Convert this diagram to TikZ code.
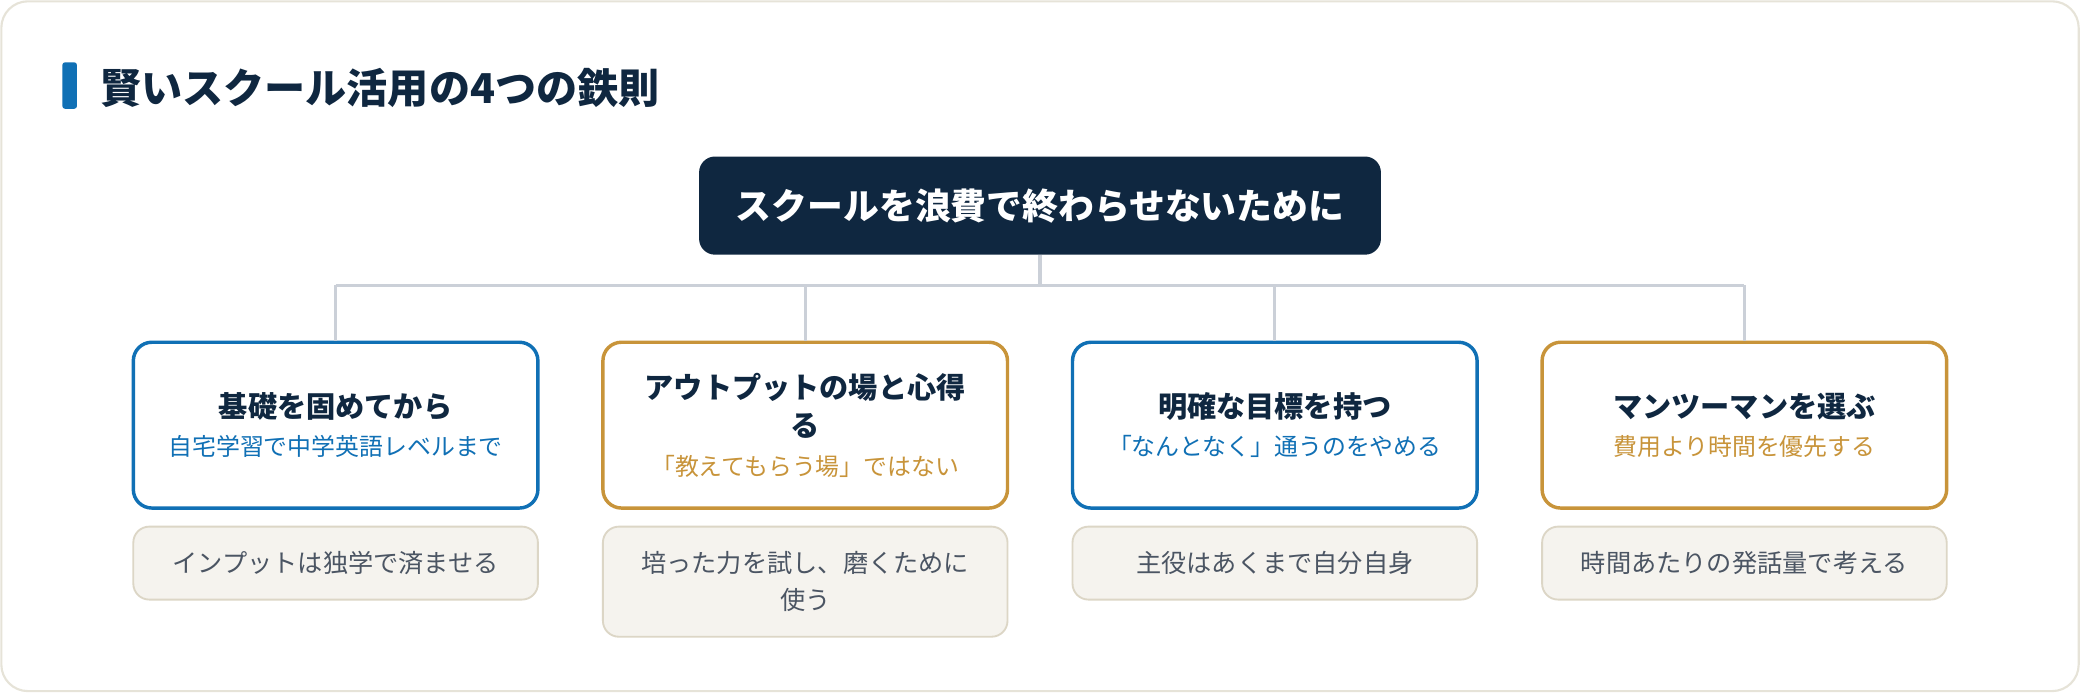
\documentclass[tikz,border=0pt]{standalone}
\usepackage{fontspec}
\setmainfont{Noto Sans CJK JP}
\definecolor{navy}{HTML}{0F2740}
\definecolor{accent}{HTML}{1070B5}
\definecolor{gold}{HTML}{C8943A}
\definecolor{linkgray}{HTML}{CBD0D8}
\definecolor{notefill}{HTML}{F5F3EE}
\definecolor{notedraw}{HTML}{DCD6C6}
\definecolor{notetext}{HTML}{4B5563}
\definecolor{framecol}{HTML}{E6E3D8}
\newcommand\cardhead[1]{{\bfseries\color{navy}#1}}
\newcommand\cardsub[2]{{\fontsize{9}{14.5}\selectfont\color{#1}#2}}
\begin{document}
\begin{tikzpicture}[x=0.5pt,y=-0.5pt,
    link/.style={draw=linkgray,line width=1.2pt},
    card/.style={draw=#1,line width=1.3pt,fill=white,rounded corners=7pt,
        minimum width=152.5pt,minimum height=62.5pt,inner sep=0pt,align=center,
        font=\fontsize{11}{14.5}\selectfont},
    note/.style={draw=notedraw,line width=0.7pt,fill=notefill,rounded corners=6pt,
        minimum width=152.5pt,minimum height=27.5pt,inner sep=0pt,align=center,
        text=notetext,font=\fontsize{9.5}{14}\selectfont}]
    \useasboundingbox (0,0) rectangle (1568,522);
    \draw[framecol,line width=0.8pt,fill=white,rounded corners=10pt] (1,1) rectangle (1567,521);
    \fill[accent,rounded corners=1pt] (47,47) rectangle (58,82);
    \node[anchor=west,inner sep=0pt,text=navy,font=\bfseries\fontsize{15.5}{18}\selectfont] (title) at (75,66) {賢いスクール活用の4つの鉄則};
    \node[fill=navy,rounded corners=6pt,minimum width=257pt,minimum height=37pt,text=white,
        font=\bfseries\fontsize{13.5}{16}\selectfont] (root) at (784,155) {スクールを浪費で終わらせないために};
    \node[card=accent] (c1) at (253,320.5) {\cardhead{基礎を固めてから}\\\cardsub{accent}{自宅学習で中学英語レベルまで}};
    \node[card=gold] (c2) at (607,320.5) {\cardhead{アウトプットの場と心得}\\\cardhead{る}\\\cardsub{gold}{「教えてもらう場」ではない}};
    \node[card=accent] (c3) at (961,320.5) {\cardhead{明確な目標を持つ}\\\cardsub{accent}{「なんとなく」通うのをやめる}};
    \node[card=gold] (c4) at (1315,320.5) {\cardhead{マンツーマンを選ぶ}\\\cardsub{gold}{費用より時間を優先する}};
    \node[note] (n1) at (253,424.5) {インプットは独学で済ませる};
    \node[note,minimum height=41.5pt] (n2) at (607,438.5) {培った力を試し、磨くために\\使う};
    \node[note] (n3) at (961,424.5) {主役はあくまで自分自身};
    \node[note] (n4) at (1315,424.5) {時間あたりの発話量で考える};
    \coordinate (bus) at (784,215);
    \draw[link] (root.south) -- (bus);
    \draw[link] (c1.north |- bus) -- (c4.north |- bus);
    \foreach \c in {c1,c2,c3,c4}
        \draw[link] (\c.north |- bus) -- (\c.north);
\end{tikzpicture}
\end{document}
